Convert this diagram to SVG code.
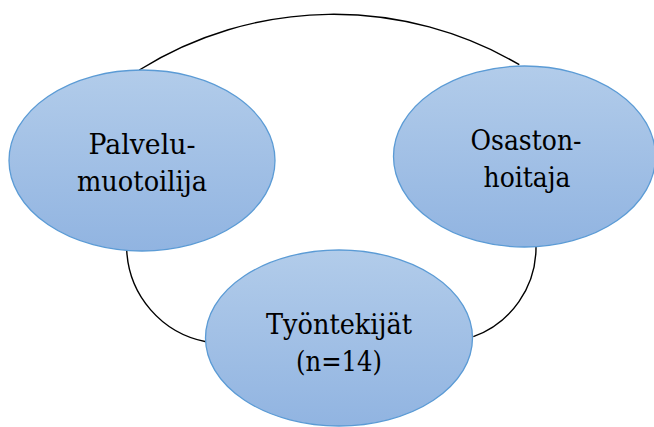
<svg xmlns="http://www.w3.org/2000/svg" width="654" height="427" viewBox="0 0 654 427">
<defs>
<linearGradient id="g" x1="0" y1="0" x2="0" y2="1">
<stop offset="0" stop-color="#B2CCEA"/>
<stop offset="1" stop-color="#91B4E1"/>
</linearGradient>
<style>
.n{fill:url(#g);stroke:#5B9BD5;stroke-width:1.3}
.c{fill:none;stroke:#000;stroke-width:1.4}
.t{font-family:"DejaVu Serif",serif;font-size:28px;fill:#000;text-anchor:middle}
</style>
</defs>
<rect width="654" height="427" fill="#fff"/>
<g id="connectors">
<path class="c" d="M139.3 70 A367 367 0 0 1 519.3 64.7"/>
<path class="c" d="M126.7 250 A98 98 0 0 0 206 341.7"/>
<path class="c" d="M536 246.7 A95 95 0 0 1 473.3 336.7"/>
</g>
<g id="palvelumuotoilija">
<ellipse class="n" cx="142" cy="160.5" rx="133" ry="90.5"/>
<text class="t" x="142" y="154" textLength="107" lengthAdjust="spacingAndGlyphs">Palvelu-</text>
<text class="t" x="142" y="191" textLength="130" lengthAdjust="spacingAndGlyphs">muotoilija</text>
</g>
<g id="osastonhoitaja">
<ellipse class="n" cx="524.5" cy="156.5" rx="131" ry="90.5"/>
<text class="t" x="526" y="150" textLength="111" lengthAdjust="spacingAndGlyphs">Osaston-</text>
<text class="t" x="527" y="187" textLength="87" lengthAdjust="spacingAndGlyphs">hoitaja</text>
</g>
<g id="tyontekijat">
<ellipse class="n" cx="339" cy="338" rx="133.5" ry="88"/>
<text class="t" x="339" y="334" textLength="146" lengthAdjust="spacingAndGlyphs">Työntekijät</text>
<text class="t" x="339" y="371" textLength="86" lengthAdjust="spacingAndGlyphs">(n=14)</text>
</g>
</svg>
